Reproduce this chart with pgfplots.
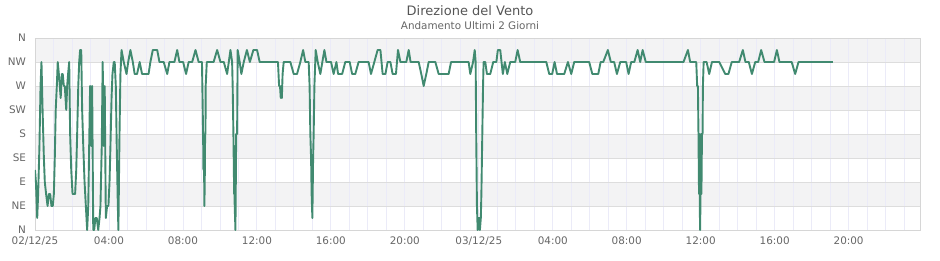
\documentclass[border=0pt]{standalone}
\usepackage{fontspec}
\setmainfont{DejaVu Sans}
\usepackage{pgfplots}
\pgfplotsset{compat=1.18}
\definecolor{lineg}{HTML}{418A70}
\definecolor{band}{HTML}{F3F3F4}
\definecolor{hgrid}{HTML}{DDDDDD}
\definecolor{vgrid}{HTML}{EBEBF8}
\definecolor{framec}{HTML}{D6D6D6}
\definecolor{lbl}{HTML}{666666}
\definecolor{ttl}{HTML}{555555}
\begin{document}
\begin{tikzpicture}
\begin{axis}[
  set layers,
  scale only axis, width=885pt, height=192pt,
  xmin=0, xmax=47.86, ymin=0, ymax=360,
  xtick={0,4,...,44},
  xticklabels={02/12/25,04:00,08:00,12:00,16:00,20:00,03/12/25,04:00,08:00,12:00,16:00,20:00},
  minor xtick={1,2,...,47},
  ytick={0,45,...,360},
  yticklabels={N,NE,E,SE,S,SW,W,NW,N},
  xmajorgrids, xminorgrids, ymajorgrids,
  major x grid style={draw=vgrid, line width=0.8pt},
  minor x grid style={draw=vgrid, line width=0.8pt},
  major y grid style={draw=hgrid, line width=0.8pt},
  axis line style={draw=framec, line width=0.9pt},
  major tick length=0pt, minor tick length=0pt,
  tick label style={font=\fontsize{10.4}{12}\selectfont, text=lbl},
  xticklabel style={yshift=-3.5pt},
  yticklabel style={xshift=-5.5pt},
]
\addplot[draw=none, fill=band, on layer=axis background] coordinates {(0,315) (47.86,315) (47.86,360) (0,360)} --cycle;
\addplot[draw=none, fill=band, on layer=axis background] coordinates {(0,225) (47.86,225) (47.86,270) (0,270)} --cycle;
\addplot[draw=none, fill=band, on layer=axis background] coordinates {(0,135) (47.86,135) (47.86,180) (0,180)} --cycle;
\addplot[draw=none, fill=band, on layer=axis background] coordinates {(0,45) (47.86,45) (47.86,90) (0,90)} --cycle;
\addplot[lineg, line width=1.9pt, line join=round] coordinates {
(0.00,112.5) (0.05,90) (0.12,22.5) (0.17,67.5) (0.24,157.5) (0.30,270) (0.35,315) (0.41,225)
(0.48,135) (0.53,90) (0.60,67.5) (0.68,45) (0.75,67.5) (0.82,67.5) (0.89,45) (0.96,45)
(1.02,67.5) (1.07,135) (1.12,225) (1.18,270) (1.23,315) (1.29,292.5) (1.34,270) (1.39,247.5)
(1.45,292.5) (1.50,292.5) (1.56,270) (1.61,270) (1.69,225) (1.74,270) (1.79,292.5) (1.85,315)
(1.90,180) (1.96,112.5) (2.03,67.5) (2.10,67.5) (2.17,67.5) (2.23,112.5) (2.28,180) (2.34,270)
(2.39,315) (2.44,337.5) (2.50,337.5) (2.55,225) (2.61,157.5) (2.68,90) (2.75,45) (2.82,0)
(2.88,45) (2.93,157.5) (2.98,270) (3.04,157.5) (3.09,270) (3.15,0) (3.20,0) (3.27,22.5)
(3.34,22.5) (3.42,0) (3.49,22.5) (3.54,45) (3.61,157.5) (3.66,315) (3.72,157.5) (3.77,270)
(3.83,22.5) (3.90,45) (3.97,45) (4.03,90) (4.08,157.5) (4.14,247.5) (4.19,292.5) (4.26,315)
(4.31,315) (4.37,270) (4.42,157.5) (4.48,45) (4.51,0) (4.57,180) (4.62,292.5) (4.68,337.5)
(4.80,315) (4.95,292.5) (5.04,315) (5.16,337.5) (5.29,315) (5.39,292.5) (5.52,292.5) (5.66,315)
(5.79,292.5) (6.14,292.5) (6.24,315) (6.37,337.5) (6.61,337.5) (6.73,315) (6.96,315) (7.15,292.5)
(7.27,315) (7.54,315) (7.69,337.5) (7.81,315) (8.01,315) (8.17,292.5) (8.31,315) (8.50,315)
(8.68,337.5) (8.85,315) (9.03,315) (9.05,270) (9.09,180) (9.11,112.5) (9.12,180) (9.15,90)
(9.16,45) (9.18,90) (9.20,180) (9.22,180) (9.23,270) (9.29,315) (9.66,315) (9.85,337.5)
(10.03,315) (10.21,315) (10.39,292.5) (10.57,337.5) (10.66,315) (10.69,270) (10.73,180) (10.77,67.5)
(10.78,157.5) (10.80,45) (10.84,0) (10.88,180) (10.93,180) (10.96,337.5) (11.07,315) (11.16,292.5)
(11.29,315) (11.46,337.5) (11.62,315) (11.81,337.5) (12.01,337.5) (12.15,315) (13.14,315) (13.20,270)
(13.25,270) (13.29,247.5) (13.32,270) (13.35,247.5) (13.39,292.5) (13.45,315) (13.81,315) (13.99,292.5)
(14.17,292.5) (14.35,315) (14.50,337.5) (14.62,315) (14.80,315) (14.85,270) (14.89,180) (14.93,135)
(14.96,67.5) (15.00,22.5) (15.04,135) (15.07,180) (15.11,270) (15.18,337.5) (15.29,315) (15.43,292.5)
(15.54,315) (15.65,337.5) (15.76,315) (16.01,315) (16.15,292.5) (16.30,315) (16.39,292.5) (16.61,292.5)
(16.78,315) (17.02,315) (17.15,292.5) (17.32,292.5) (17.50,315) (18.04,315) (18.17,292.5) (18.35,315)
(18.53,337.5) (18.68,337.5) (18.80,292.5) (18.95,292.5) (19.07,315) (19.22,315) (19.34,292.5) (19.52,292.5)
(19.63,337.5) (19.76,315) (20.08,315) (20.21,337.5) (20.31,315) (20.75,315) (20.89,292.5) (21.02,270)
(21.16,292.5) (21.29,315) (21.65,315) (21.83,292.5) (22.37,292.5) (22.50,315) (23.45,315) (23.54,292.5)
(23.69,315) (23.78,337.5) (23.83,315) (23.86,180) (23.90,45) (23.94,0) (23.97,22.5) (24.03,22.5)
(24.06,0) (24.11,22.5) (24.14,67.5) (24.19,180) (24.23,270) (24.26,315) (24.35,315) (24.44,292.5)
(24.62,292.5) (24.78,315) (24.95,315) (25.03,337.5) (25.16,337.5) (25.30,292.5) (25.41,315) (25.54,292.5)
(25.70,315) (25.97,315) (26.10,337.5) (26.24,315) (27.65,315) (27.81,292.5) (27.97,292.5) (28.10,315)
(28.23,292.5) (28.62,292.5) (28.82,315) (29.00,292.5) (29.16,315) (29.97,315) (30.14,292.5) (30.46,292.5)
(30.59,315) (30.73,315) (30.98,337.5) (31.14,315) (31.32,315) (31.47,292.5) (31.65,315) (31.97,315)
(32.10,292.5) (32.24,315) (32.41,315) (32.59,337.5) (32.73,315) (32.86,337.5) (33.03,315) (35.07,315)
(35.31,337.5) (35.43,315) (35.76,315) (35.81,270) (35.85,270) (35.88,180) (35.91,67.5) (35.93,180)
(35.95,45) (35.97,0) (35.99,67.5) (36.02,180) (36.04,67.5) (36.07,180) (36.10,180) (36.12,270)
(36.16,315) (36.32,315) (36.46,292.5) (36.61,315) (37.00,315) (37.33,292.5) (37.50,292.5) (37.68,315)
(38.08,315) (38.28,337.5) (38.42,315) (38.60,315) (38.77,292.5) (38.95,315) (39.11,315) (39.27,337.5)
(39.45,315) (39.97,315) (40.12,337.5) (40.26,315) (40.92,315) (41.11,292.5) (41.29,315) (43.15,315)
};
\end{axis}
\node[font=\fontsize{13}{15}\selectfont, text=ttl] at (435pt,219pt) {Direzione del Vento};
\node[font=\fontsize{10.4}{12}\selectfont, text=lbl] at (435pt,204pt) {Andamento Ultimi 2 Giorni};
\pgfresetboundingbox
\path[use as bounding box] (-35pt,-30pt) rectangle (905pt,230pt);
\end{tikzpicture}
\end{document}
